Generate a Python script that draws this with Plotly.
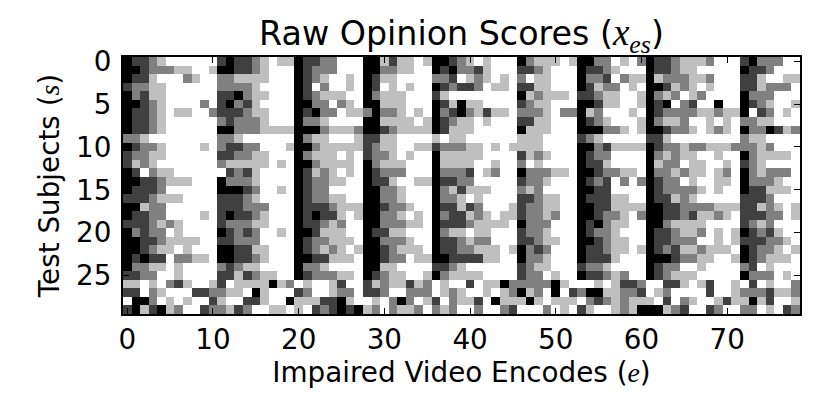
import plotly.graph_objects as go

# opinion scores 1 (black) to 5 (white), one string per test subject
# spaces only split the columns into blocks 0-24, 25-52, 53-75, 76-78
score_rows = [
    "1223455555521223454412233 5551142445411234545551344454 11335453122344435552133 355",
    "1123334455411223455512333 5551133445512133245552234555 12234555122344555551223 555",
    "1224555345533444455512345 5451244555533254345453544555 13325344143334435552245 544",
    "2334455555533334555512535 5451254545512322354452244555 12433545112434545552243 335",
    "1324455555522134455512344 4551344455524555555551434445 22344554134354355551333 555",
    "1123455553521324555511335 3451144455512414455552344555 11244554121532551551234 554",
    "1223454455322234455512133 5443133454513213424453334533 14355545123333443441523 545",
    "1223455555532333455513345 5551144445412344545552244555 12345554134435545453344 555",
    "1223455555511333444411134 4431123444412444555551444555 11133454112334543451331 243",
    "3345555555533455555513445 5542244555545445555554445555 23455555224555555553445 555",
    "1233455554532233555411344 4442344554423334454544445555 11324444123343344433343 555",
    "2334455555522334455513444 5452334545514444455552434555 12335555134344554551344 445",
    "2434555555534444454511344 4451344455514444554553545555 12245555143354455452345 555",
    "1253445555552324555512434 5451233355513332543551333445 11233445133434454351343 335",
    "1122344455513334555512334 4551224554412233555552334555 12325353123354554451333 455",
    "1222355555511123554512335 5551133455513424445553435555 11225555123333454551224 445",
    "2223444555522234555512334 4551133455513345455552234455 12224455122434555552223 555",
    "1143355555522233355512223 4441123345512242355542334455 11224444112233334442243 454",
    "1223355554521223455512122 4541133454513224345442334355 11233453112232443452223 354",
    "2223434555523334455512234 3551133344512223444451333555 12134455113444455552343 555",
    "1323354555512323554511244 4551224455513445445552334555 12334555122344354541232 455",
    "1122344445522333555512334 4451133345512234335552234455 11234455122333554542223 345",
    "1123445455511224455512343 4541123444512233444541323555 12234454123244344451233 454",
    "1212253344511223455511224 4451123354411222244551334555 12224555111233445541234 445",
    "1334454555532344555513345 5551144555522345555552344555 23345555123355455553254 555",
    "2233554555522423445512333 4451234455413444455552335455 12234355123444555551333 545",
    "4454532455425444414354554 2552434424354552544133333145 55454223552245425545254 553",
    "2253455522334451455523554 3352235533354345545431435152 31144332543555525543332 443",
    "5113545455245522455144422 1455453135425344251444145444 53234344452534554244142 554",
    "2142143552334235544545232 1214353443534355355325553545 24554341114325523553354 523",
]

x_ticks = [0, 10, 20, 30, 40, 50, 60, 70]
y_ticks = [0, 5, 10, 15, 20, 25]

title_text = (
    "Raw Opinion Scores (<span style=\"font-family:'Liberation Serif';font-size:37px\"><i>x<sub>es</sub></i></span>)"
)
x_title = "Impaired Video Encodes (<span style=\"font-family:'Liberation Serif'\"><i>e</i></span>)"
y_title = "Test Subjects (<span style=\"font-family:'Liberation Serif'\"><i>s</i></span>)"

scores = [[int(c) for c in row.replace(" ", "")] for row in score_rows]
assert all(len(r) == 79 for r in scores), [len(r) for r in scores]

fig = go.Figure(
    go.Heatmap(
        z=scores,
        zmin=1,
        zmax=5,
        colorscale=[[0, "#000000"], [1, "#ffffff"]],
        showscale=False,
        xgap=0,
        ygap=0,
    )
)

axis_style = dict(
    showgrid=False,
    zeroline=False,
    ticks="inside",
    ticklen=6,
    tickwidth=1,
    tickcolor="black",
    showline=True,
    linecolor="black",
    linewidth=2,
    mirror="ticks",
    tickfont=dict(size=27.8, color="black"),
)

# the page adds an 8px body margin, so the figure is 8px smaller than the window
fig.update_layout(
    width=822,
    height=407,
    autosize=False,
    margin=dict(l=115, r=30, t=48.5, b=101),
    paper_bgcolor="white",
    plot_bgcolor="white",
    font=dict(family="DejaVu Sans", color="black"),
    title=dict(
        text=title_text,
        x=453.5 / 822,
        xanchor="center",
        y=0.909,
        yanchor="bottom",
        font=dict(size=33.3, color="black"),
    ),
    xaxis=dict(
        range=[-0.5, 78.5],
        tickvals=x_ticks,
        title=dict(text=x_title, font=dict(size=27.8), standoff=7),
        **axis_style,
    ),
    yaxis=dict(
        range=[29.5, -0.5],
        tickvals=y_ticks,
        ticklabelstandoff=4,
        title=dict(text=y_title, font=dict(size=27.8), standoff=8),
        **axis_style,
    ),
)

fig.write_html("out.html")
